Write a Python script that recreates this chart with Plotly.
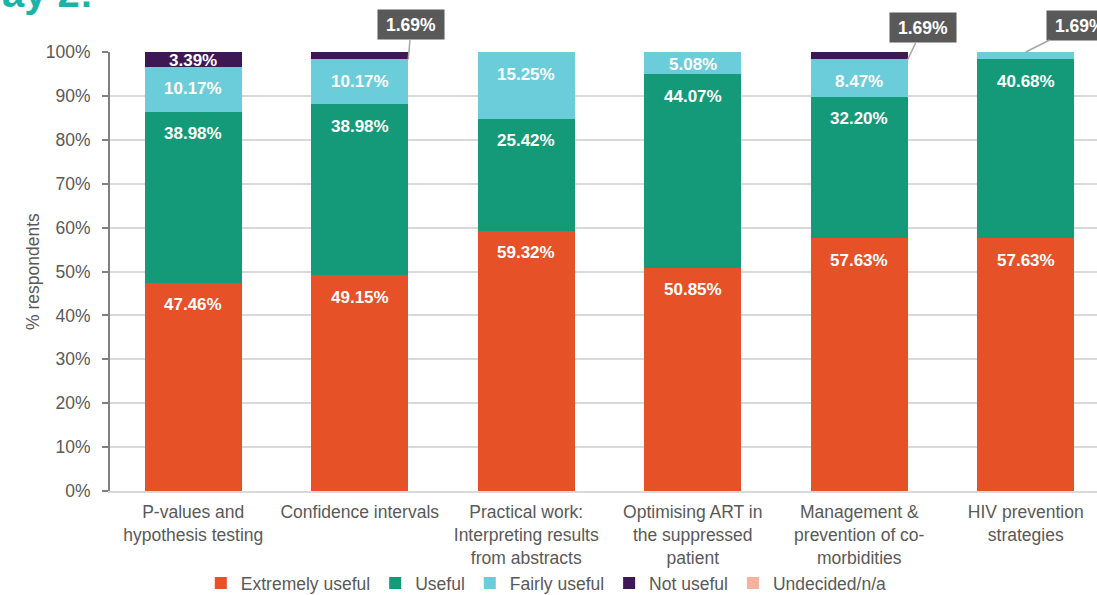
import numpy as np
import plotly.graph_objects as go

# Survey data: share of respondents (%) per rating, for each session topic
topics = [
    "P-values and<br>hypothesis testing",
    "Confidence intervals",
    "Practical work:<br>Interpreting results<br>from abstracts",
    "Optimising ART in<br>the suppressed<br>patient",
    "Management &<br>prevention of co-<br>morbidities",
    "HIV prevention<br>strategies",
]
extremely_useful = [47.46, 49.15, 59.32, 50.85, 57.63, 57.63]
useful = [38.98, 38.98, 25.42, 44.07, 32.20, 40.68]
fairly_useful = [10.17, 10.17, 15.25, 5.08, 8.47, 1.69]
not_useful = [3.39, 1.69, 0.0, 0.0, 1.69, 0.0]
undecided = [0.0, 0.0, 0.0, 0.0, 0.0, 0.0]

series = [
    ("Extremely useful", extremely_useful, "#E65127"),
    ("Useful", useful, "#149A78"),
    ("Fairly useful", fairly_useful, "#6CCDDA"),
    ("Not useful", not_useful, "#3D1854"),
    ("Undecided/n/a", undecided, "#F5B29C"),
]

FONT = "Arial, 'Liberation Sans', sans-serif"
GREY = "#595959"
BAR_W = 0.5826
x = np.arange(len(topics))

fig = go.Figure()
for name, vals, color in series:
    fig.add_trace(go.Bar(
        x=x, y=vals, name=name, width=BAR_W,
        marker=dict(color=color, line=dict(width=0)),
        hoverinfo="name+y",
    ))

annotations = []

# Value labels inside the segments (small values get a callout box instead)
bottoms = np.zeros(len(topics))
callouts = []
for name, vals, color in series:
    vals = np.array(vals)
    tops = bottoms + vals
    for i, v in enumerate(vals):
        if v <= 0:
            continue
        if v < 2:
            callouts.append((i, bottoms[i], tops[i], v))
            continue
        if v >= 8:
            yy, shift = tops[i], -22
        else:
            yy, shift = (bottoms[i] + tops[i]) / 2, -1.5
        annotations.append(dict(
            x=i, y=yy, yshift=shift, xref="x", yref="y",
            text=f"<b>{v:.2f}%</b>", showarrow=False,
            font=dict(family=FONT, size=17, color="white"),
            xanchor="center", yanchor="middle",
        ))
    bottoms = tops

# Callout boxes for the thin segments: (tip at bar edge?, ax, ay)
callout_style = {1: (True, 3, -34.5), 4: (True, 15, -31.5), 5: (False, 54, -27)}
for i, b, t, v in callouts:
    at_edge, ax, ay = callout_style[i]
    annotations.append(dict(
        x=i + BAR_W / 2 if at_edge else i,
        y=b if at_edge else t,
        xref="x", yref="y",
        text=f"<b>{v:.2f}%</b>",
        showarrow=True, arrowhead=0, arrowwidth=1.5, arrowcolor="#A6A6A6",
        standoff=0, ax=ax, ay=ay,
        bgcolor="#595959", borderpad=0, width=66, height=29,
        font=dict(family=FONT, size=17.5, color="white"),
    ))

# Slide heading, partly above the visible area
annotations.append(dict(
    x=-0.1408, y=1.134, xref="paper", yref="paper",
    text="<b>Day 2:</b>", showarrow=False,
    xanchor="left", yanchor="middle",
    font=dict(family=FONT, size=40, color="#19B4A7"),
))

fig.update_layout(
    width=1097, height=595,
    margin=dict(l=110, r=0, t=52, b=104, autoexpand=False),
    paper_bgcolor="white", plot_bgcolor="white",
    barmode="stack", bargap=0,
    font=dict(family=FONT, size=17.5, color=GREY),
    showlegend=True,
    legend=dict(
        orientation="h", xref="container", yref="container",
        x=0.498, xanchor="center", y=0.02, yanchor="middle",
        traceorder="normal", font=dict(family=FONT, size=17.5, color=GREY),
        itemwidth=30, bgcolor="rgba(0,0,0,0)",
    ),
    annotations=annotations,
    xaxis=dict(
        range=[-0.5, 5.428], tickmode="array", tickvals=list(x), ticktext=topics,
        showline=True, linecolor="#D9D9D9", linewidth=2, showgrid=False,
        ticks="", zeroline=False, fixedrange=True, automargin=False,
        ticklabelstandoff=4,
        tickfont=dict(family=FONT, size=17.5, color=GREY),
    ),
    yaxis=dict(
        range=[0, 100], dtick=10, tick0=0, ticksuffix="%",
        showgrid=True, gridcolor="#D9D9D9", gridwidth=1.5,
        showline=True, linecolor="#808080", linewidth=2,
        ticks="outside", ticklen=6, tickcolor="#808080", tickwidth=2,
        zeroline=False, ticklabelstandoff=8, automargin=False,
        tickfont=dict(family=FONT, size=17.5, color=GREY),
        title=dict(text="% respondents", standoff=2,
                   font=dict(family=FONT, size=17.5, color=GREY)),
    ),
)

fig.write_html("out.html")
